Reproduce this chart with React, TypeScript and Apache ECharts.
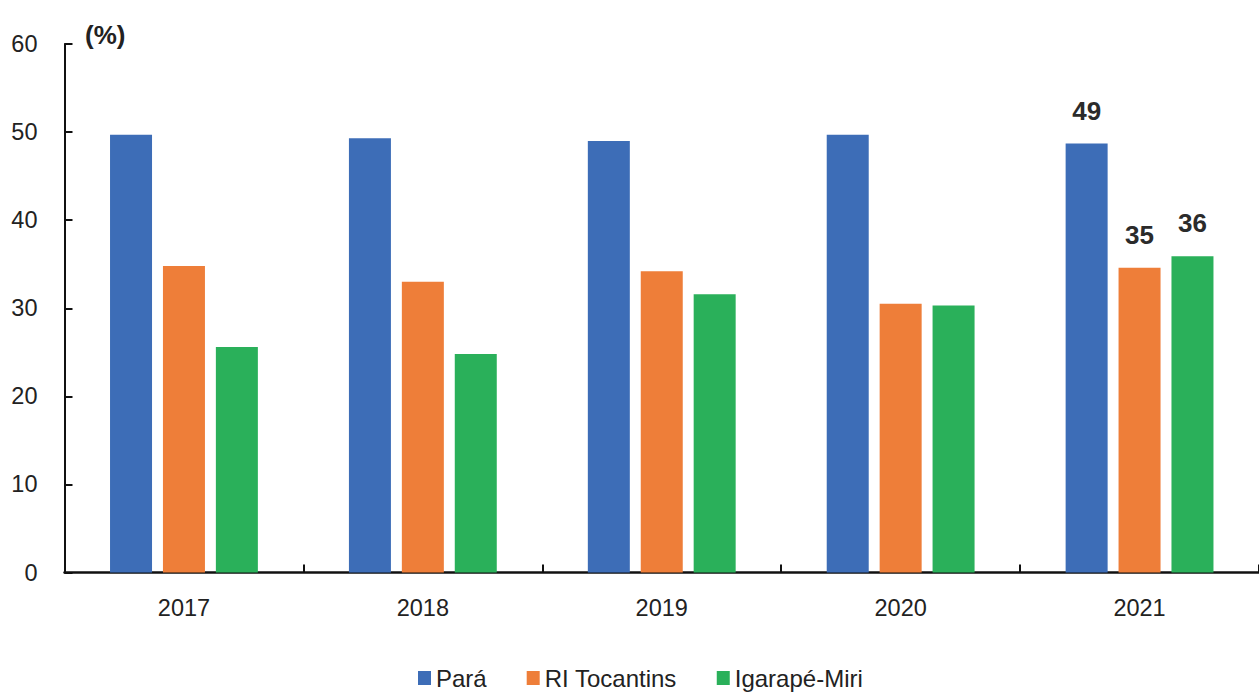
import React, { useEffect, useRef } from "react";
import * as echarts from "echarts";

const categories = ["2017", "2018", "2019", "2020", "2021"];
const seriesNames = ["Pará", "RI Tocantins", "Igarapé-Miri"];
const para = [49.7, 49.3, 49.0, 49.7, 48.7];
const riTocantins = [34.8, 33.0, 34.2, 30.5, 34.6];
const igarapeMiri = [25.6, 24.8, 31.6, 30.3, 35.9];
const labelledIndex = 4;
const colors = ["#3D6DB7", "#EE7E39", "#2AB05A"];

const FONT = "'Liberation Sans', Arial, sans-serif";

export default function App() {
  const ref = useRef<HTMLDivElement>(null);
  useEffect(() => {
    if (!ref.current) return;
    const chart = echarts.init(ref.current, undefined, { renderer: "svg" });
    const mk = (name: string, vals: number[], color: string) => ({
      name,
      type: "bar",
      barWidth: 42,
      barGap: "26%",
      itemStyle: { color },
      data: vals.map((v, i) =>
        i === labelledIndex
          ? {
              value: v,
              label: {
                show: true,
                position: "top",
                distance: 20,
                formatter: (p: any) => String(Math.round(p.value)),
                fontFamily: FONT,
                fontWeight: "bold",
                fontSize: 26,
                color: "#2b2b2b",
              },
            }
          : v
      ),
    });
    chart.setOption({
      animation: false,
      backgroundColor: "#ffffff",
      grid: { left: 64.5, right: -7.5, top: 44, bottom: 122.5, containLabel: false },
      xAxis: {
        type: "category",
        data: categories,
        axisLine: { show: true, lineStyle: { color: "#111", width: 2.5 } },
        axisTick: { show: true, inside: true, length: 8, lineStyle: { color: "#111", width: 2 } },
        axisLabel: { margin: 23, fontFamily: FONT, fontSize: 23.5, color: "#222" },
      },
      yAxis: {
        type: "value",
        min: 0,
        max: 60,
        interval: 10,
        splitLine: { show: false },
        axisLine: { show: true, lineStyle: { color: "#111", width: 2 } },
        axisTick: { show: true, inside: true, length: 8, lineStyle: { color: "#111", width: 2 } },
        axisLabel: { margin: 27, fontFamily: FONT, fontSize: 23.5, color: "#222" },
      },
      legend: {
        data: seriesNames,
        left: 418,
        top: 665,
        padding: 0,
        itemWidth: 13,
        itemHeight: 14,
        itemGap: 40,
        icon: "rect",
        textStyle: { fontFamily: FONT, fontSize: 24, lineHeight: 26, color: "#222" },
      },
      graphic: [
        {
          type: "text",
          left: 85,
          top: 22,
          style: { text: "(%)", fontFamily: FONT, fontWeight: "bold", fontSize: 26, fill: "#222" },
        },
      ],
      series: [
        mk(seriesNames[0], para, colors[0]),
        mk(seriesNames[1], riTocantins, colors[1]),
        mk(seriesNames[2], igarapeMiri, colors[2]),
      ],
    });
    return () => chart.dispose();
  }, []);
  return (
    <div
      ref={ref}
      style={{ position: "fixed", left: 0, top: 0, width: 1259, height: 695, background: "#fff" }}
    />
  );
}
